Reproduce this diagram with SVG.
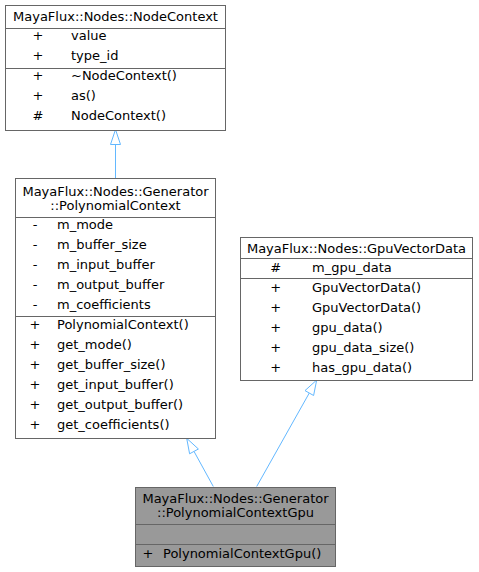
<svg xmlns="http://www.w3.org/2000/svg" width="479" height="572" viewBox="0 0 479 572">
<style>
text{font-family:"DejaVu Sans",sans-serif;font-size:13px;fill:#000}
.t{text-anchor:middle}
.v{text-anchor:middle}
.box{fill:#fff;stroke:#666;stroke-width:1}
.cur{fill:#999;stroke:#666;stroke-width:1}
.sep{stroke:#666;stroke-width:1}
.edge{stroke:#63b8ff;stroke-width:1;fill:none}
.head{stroke:#63b8ff;stroke-width:1;fill:#fff}
</style>
<g id="edges">
<line class="edge" x1="115.5" y1="178" x2="115.5" y2="144"/>
<polygon class="head" points="115.5,129.5 110.5,144.5 120.5,144.5"/>
<line class="edge" x1="213.3" y1="486.5" x2="194" y2="451.4"/>
<polygon class="head" points="186.7,438.3 189.6,453.8 198.4,449"/>
<line class="edge" x1="256.7" y1="486.5" x2="309.3" y2="393"/>
<polygon class="head" points="316.7,380 313.6,395.5 305,390.6"/>
</g>
<g id="NodeContext">
<rect class="box" x="5.5" y="5.5" width="220" height="125"/>
<line class="sep" x1="5.5" y1="28.5" x2="225.5" y2="28.5"/>
<line class="sep" x1="5.5" y1="68.5" x2="225.5" y2="68.5"/>
<text class="t" x="115.5" y="20.7">MayaFlux::Nodes::NodeContext</text>
<text class="v" x="38" y="39.5">+</text><text x="71" y="39.5">value</text>
<text class="v" x="38" y="59.5">+</text><text x="71" y="59.5">type_id</text>
<text class="v" x="38" y="79.5">+</text><text x="71" y="79.5">~NodeContext()</text>
<text class="v" x="38" y="99.5">+</text><text x="71" y="99.5">as()</text>
<text class="v" x="38" y="119.5">#</text><text x="71" y="119.5">NodeContext()</text>
</g>
<g id="PolynomialContext">
<rect class="box" x="15.5" y="178.5" width="200" height="260"/>
<line class="sep" x1="15.5" y1="217.5" x2="215.5" y2="217.5"/>
<line class="sep" x1="15.5" y1="316.5" x2="215.5" y2="316.5"/>
<text class="t" x="115.5" y="195.5">MayaFlux::Nodes::Generator</text>
<text class="t" x="115.5" y="210">::PolynomialContext</text>
<text class="v" x="35" y="229.3">-</text><text x="57" y="229.3">m_mode</text>
<text class="v" x="35" y="249.3">-</text><text x="57" y="249.3">m_buffer_size</text>
<text class="v" x="35" y="269.3">-</text><text x="57" y="269.3">m_input_buffer</text>
<text class="v" x="35" y="289.3">-</text><text x="57" y="289.3">m_output_buffer</text>
<text class="v" x="35" y="309.3">-</text><text x="57" y="309.3">m_coefficients</text>
<text class="v" x="35" y="329.3">+</text><text x="57" y="329.3">PolynomialContext()</text>
<text class="v" x="35" y="349.3">+</text><text x="57" y="349.3">get_mode()</text>
<text class="v" x="35" y="369.3">+</text><text x="57" y="369.3">get_buffer_size()</text>
<text class="v" x="35" y="389.3">+</text><text x="57" y="389.3">get_input_buffer()</text>
<text class="v" x="35" y="409.3">+</text><text x="57" y="409.3">get_output_buffer()</text>
<text class="v" x="35" y="429.3">+</text><text x="57" y="429.3">get_coefficients()</text>
</g>
<g id="GpuVectorData">
<rect class="box" x="240.5" y="237.5" width="232" height="143"/>
<line class="sep" x1="240.5" y1="258.5" x2="472.5" y2="258.5"/>
<line class="sep" x1="240.5" y1="278.5" x2="472.5" y2="278.5"/>
<text class="t" x="356.5" y="252.7">MayaFlux::Nodes::GpuVectorData</text>
<text class="v" x="275.7" y="271.5">#</text><text x="312" y="271.5">m_gpu_data</text>
<text class="v" x="275.7" y="291.5">+</text><text x="312" y="291.5">GpuVectorData()</text>
<text class="v" x="275.7" y="311.5">+</text><text x="312" y="311.5">GpuVectorData()</text>
<text class="v" x="275.7" y="331.5">+</text><text x="312" y="331.5">gpu_data()</text>
<text class="v" x="275.7" y="351.5">+</text><text x="312" y="351.5">gpu_data_size()</text>
<text class="v" x="275.7" y="371.5">+</text><text x="312" y="371.5">has_gpu_data()</text>
</g>
<g id="PolynomialContextGpu">
<rect class="cur" x="135.5" y="487.5" width="200" height="79"/>
<line class="sep" x1="135.5" y1="524.5" x2="335.5" y2="524.5"/>
<line class="sep" x1="135.5" y1="544.5" x2="335.5" y2="544.5"/>
<text class="t" x="235.5" y="502.7">MayaFlux::Nodes::Generator</text>
<text class="t" x="235.5" y="517.4">::PolynomialContextGpu</text>
<text class="v" x="148" y="557.5">+</text><text x="163" y="557.5">PolynomialContextGpu()</text>
</g>
</svg>
